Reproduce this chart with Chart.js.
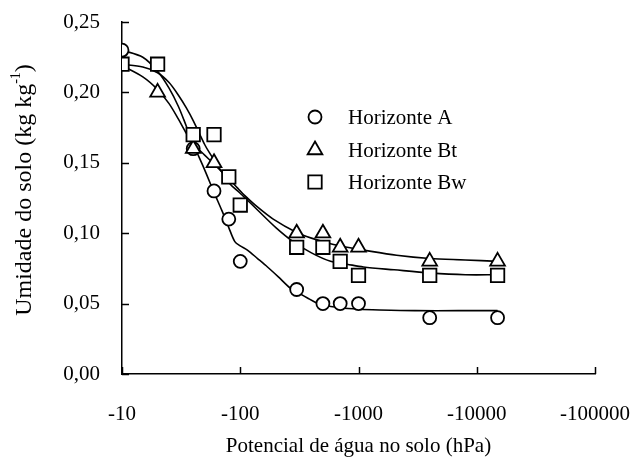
<!DOCTYPE html>
<html>
<head>
<meta charset="utf-8">
<script src="https://cdn.jsdelivr.net/npm/chart.js@4/dist/chart.umd.min.js"></script>
<style>
  html, body { margin: 0; padding: 0; background: #fff; }
  #grafico { display: block; }
</style>
</head>
<body>
<canvas id="grafico" width="631" height="457"></canvas>
<script>
// pontos medidos (potencial em hPa, umidade em kg/kg)
const potencialA = [-10, -40, -60, -80, -100, -300, -500, -700, -1000, -4000, -15000];
const umidadeA = [0.23, 0.16, 0.13, 0.11, 0.08, 0.06, 0.05, 0.05, 0.05, 0.04, 0.04];

const potencialBt = [-20, -40, -60, -300, -500, -700, -1000, -4000, -15000];
const umidadeBt = [0.20, 0.16, 0.15, 0.10, 0.10, 0.09, 0.09, 0.08, 0.08];

const potencialBw = [-10, -20, -40, -60, -80, -100, -300, -500, -700, -1000, -4000, -15000];
const umidadeBw = [0.22, 0.22, 0.17, 0.17, 0.14, 0.12, 0.09, 0.09, 0.08, 0.07, 0.07, 0.07];

// curvas ajustadas
const curvaAx = [-10, -15, -20, -25, -30, -35, -40, -50, -60, -70, -80, -90, -100, -115, -140, -170, -210, -265, -320, -370, -430, -500, -700, -1000, -1500, -3000, -7000, -15000];
const curvaAy = [0.230, 0.225, 0.215, 0.203, 0.190, 0.176, 0.1635, 0.145, 0.129, 0.116, 0.104, 0.094, 0.091, 0.088, 0.082, 0.076, 0.069, 0.061, 0.057, 0.054, 0.051, 0.049, 0.047, 0.046, 0.0455, 0.045, 0.045, 0.045];

const curvaBtx = [-10, -15, -20, -25, -30, -35, -40, -50, -61, -70, -82, -95, -110, -138, -190, -300, -400, -580, -800, -1100, -2100, -4000, -8000, -15000];
const curvaBty = [0.219, 0.211, 0.202, 0.192, 0.181, 0.171, 0.1635, 0.1555, 0.1485, 0.1435, 0.1378, 0.132, 0.1265, 0.119, 0.110, 0.1005, 0.0965, 0.0925, 0.090, 0.088, 0.0843, 0.082, 0.081, 0.080];

const curvaBwx = [-10, -15, -20, -25, -30, -35, -40, -50, -55, -68, -82, -95, -107, -140, -200, -280, -400, -580, -800, -1100, -2000, -4000, -8000, -15000];
const curvaBwy = [0.220, 0.218, 0.214, 0.207, 0.198, 0.189, 0.180, 0.163, 0.157, 0.145, 0.135, 0.130, 0.126, 0.1165, 0.104, 0.094, 0.086, 0.080, 0.078, 0.076, 0.074, 0.0718, 0.0705, 0.0705];

// eixos
const ticksX = [-10, -100, -1000, -10000, -100000];
const ticksY = [0, 0.05, 0.10, 0.15, 0.20, 0.25];

const legendaNomes = ['Horizonte A', 'Horizonte Bt', 'Horizonte Bw'];
const legendaSimbolos = ['circle', 'triangle', 'rect'];

const FONTE = '"Liberation Serif", "Times New Roman", serif';
const TAM = 21;
const TAM_Y = 24;

function pares(xs, ys) {
    return xs.map((x, i) => ({ x: -x, y: ys[i] }));
}

function pontos(label, xs, ys, estilo, raio) {
    return {
        label: label,
        data: pares(xs, ys),
        showLine: false,
        pointStyle: estilo,
        pointRadius: raio,
        pointBackgroundColor: '#fff',
        pointBorderColor: '#000',
        pointBorderWidth: 1.8
    };
}

function curva(xs, ys) {
    return {
        label: '',
        data: pares(xs, ys),
        showLine: true,
        borderColor: '#000',
        borderWidth: 1.6,
        pointRadius: 0,
        tension: 0.3,
        fill: false
    };
}

// marcas dos eixos para dentro
const marcasInternas = {
    id: 'marcasInternas',
    afterDraw(chart) {
        const ctx = chart.ctx;
        const area = chart.chartArea;
        const sx = chart.scales.x;
        const sy = chart.scales.y;
        ctx.save();
        ctx.strokeStyle = '#000';
        ctx.lineWidth = 1.5;
        sx.ticks.forEach(t => {
            const px = Math.round(sx.getPixelForValue(t.value)) + 0.5;
            ctx.beginPath();
            ctx.moveTo(px, area.bottom);
            ctx.lineTo(px, area.bottom - 7);
            ctx.stroke();
        });
        sy.ticks.forEach(t => {
            const py = Math.round(sy.getPixelForValue(t.value)) + 0.5;
            ctx.beginPath();
            ctx.moveTo(area.left, py);
            ctx.lineTo(area.left + 7, py);
            ctx.stroke();
        });
        ctx.restore();
    }
};

// título do eixo y com expoente
const tituloY = {
    id: 'tituloY',
    afterDraw(chart) {
        const ctx = chart.ctx;
        const base = 'Umidade do solo (kg kg';
        const sup = '-1';
        const fim = ')';
        const tamSup = Math.round(TAM_Y * 0.6);
        ctx.save();
        ctx.fillStyle = '#000';
        ctx.font = TAM_Y + 'px ' + FONTE;
        const w1 = ctx.measureText(base).width;
        const w3 = ctx.measureText(fim).width;
        ctx.font = tamSup + 'px ' + FONTE;
        const w2 = ctx.measureText(sup).width;
        const total = w1 + w2 + w3;
        ctx.translate(25, 190);
        ctx.rotate(-Math.PI / 2);
        ctx.textBaseline = 'middle';
        ctx.textAlign = 'left';
        let x = -total / 2;
        ctx.font = TAM_Y + 'px ' + FONTE;
        ctx.fillText(base, x, 0);
        x += w1;
        ctx.font = tamSup + 'px ' + FONTE;
        ctx.fillText(sup, x, -9);
        x += w2;
        ctx.font = TAM_Y + 'px ' + FONTE;
        ctx.fillText(fim, x, 0);
        ctx.restore();
    }
};

// legenda dentro da área do gráfico
const legendaInterna = {
    id: 'legendaInterna',
    afterDraw(chart) {
        const ctx = chart.ctx;
        const linhas = [117, 150, 182];
        const raios = [6.5, 8.5, 9.5];
        ctx.save();
        ctx.font = TAM + 'px ' + FONTE;
        ctx.textBaseline = 'middle';
        ctx.textAlign = 'left';
        legendaNomes.forEach((nome, i) => {
            ctx.strokeStyle = '#000';
            ctx.fillStyle = '#fff';
            ctx.lineWidth = 1.8;
            Chart.helpers.drawPoint(ctx, {
                pointStyle: legendaSimbolos[i],
                radius: raios[i],
                rotation: 0,
                borderWidth: 1.8
            }, 315, linhas[i]);
            ctx.fillStyle = '#000';
            ctx.fillText(nome, 348, linhas[i] + 1);
        });
        ctx.restore();
    }
};

const ctx = document.getElementById('grafico').getContext('2d');

new Chart(ctx, {
    type: 'scatter',
    data: {
        datasets: [
            pontos('Horizonte Bw', potencialBw, umidadeBw, 'rect', 9.5),
            pontos('Horizonte Bt', potencialBt, umidadeBt, 'triangle', 8.5),
            pontos('Horizonte A', potencialA, umidadeA, 'circle', 6.5),
            curva(curvaAx, curvaAy),
            curva(curvaBtx, curvaBty),
            curva(curvaBwx, curvaBwy)
        ]
    },
    options: {
        responsive: false,
        animation: false,
        layout: { padding: { top: 22, right: 36, left: 0, bottom: 0 } },
        plugins: {
            legend: { display: false },
            tooltip: { enabled: false }
        },
        scales: {
            x: {
                type: 'logarithmic',
                min: 10,
                max: 100000,
                afterBuildTicks(scale) {
                    scale.ticks = ticksX.map(v => ({ value: -v }));
                },
                afterFit(scale) {
                    scale.height = 83;
                    scale.paddingLeft = 0;
                    scale.paddingRight = 0;
                },
                grid: { display: false, drawTicks: false },
                border: { display: true, color: '#000', width: 1.5 },
                ticks: {
                    color: '#000',
                    padding: 28,
                    maxRotation: 0,
                    autoSkip: false,
                    font: { family: FONTE, size: TAM },
                    callback: v => '-' + v
                },
                title: {
                    display: true,
                    text: 'Potencial de água no solo (hPa)',
                    color: '#000',
                    padding: 0,
                    font: { family: FONTE, size: TAM, lineHeight: 1.0 }
                }
            },
            y: {
                min: 0,
                max: 0.25,
                afterBuildTicks(scale) {
                    scale.ticks = ticksY.map(v => ({ value: v }));
                },
                afterFit(scale) {
                    scale.width = 122;
                    scale.paddingTop = 0;
                    scale.paddingBottom = 0;
                },
                grid: { display: false, drawTicks: false },
                border: { display: true, color: '#000', width: 1.5 },
                ticks: {
                    color: '#000',
                    padding: 22,
                    font: { family: FONTE, size: TAM },
                    callback: v => v.toFixed(2).replace('.', ',')
                }
            }
        }
    },
    plugins: [marcasInternas, tituloY, legendaInterna]
});
</script>
</body>
</html>
